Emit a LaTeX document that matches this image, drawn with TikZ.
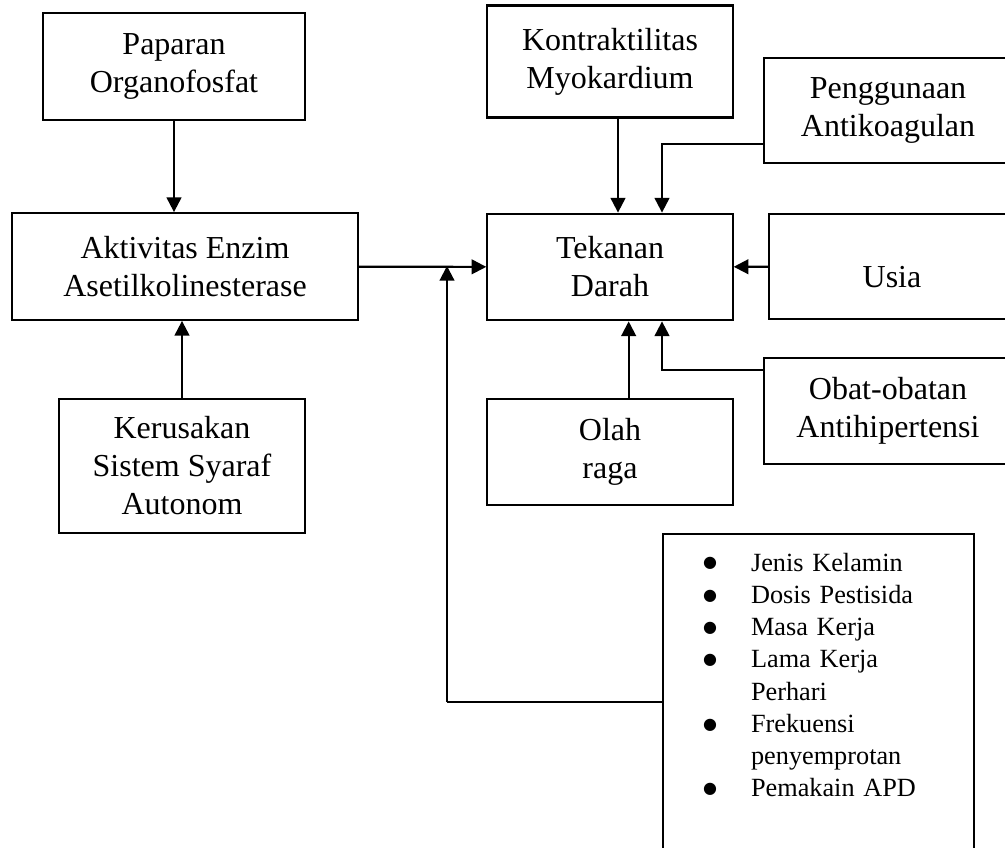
\documentclass[tikz,border=0pt]{standalone}
\usepackage{fontspec}
\setmainfont{Liberation Serif}
\newfontfamily\simbol{DejaVu Sans}
\usetikzlibrary{arrows.meta}
\newcommand{\butir}{\hspace*{30pt}\makebox[36pt][l]{\raisebox{2.5pt}{\simbol\fontsize{12}{12}\selectfont ●}}}
\newcommand{\lanjut}{\hspace*{66pt}}
\begin{document}
\begin{tikzpicture}[x=0.75pt, y=-0.75pt,
    kotak/.style={draw, line width=1.6pt, rectangle, inner sep=0pt, align=center,
        font=\fontsize{24}{28.5}\selectfont},
    daftar/.style={draw, line width=1.6pt, rectangle, inner sep=0pt, align=left,
        text width=233pt, font=\fontsize{19.7}{24.2}\selectfont},
    panah/.style={line width=1.6pt, -{Triangle[length=11pt,width=11pt]}}]
            \useasboundingbox (0,0) rectangle (1005,848);
            \node[kotak, minimum width=196pt, minimum height=80pt] (paparan) at (174, 66.5) {Paparan\\Organofosfat};
            \node[kotak, minimum width=259pt, minimum height=80pt] (enzim) at (185, 266.5) {Aktivitas Enzim\\Asetilkolinesterase};
            \node[kotak, minimum width=184pt, minimum height=100pt] (kerusakan) at (182, 466) {Kerusakan\\Sistem Syaraf\\Autonom};
            \node[kotak, minimum width=184pt, minimum height=84pt] (kontraktil) at (610, 61.5) {Kontraktilitas\\Myokardium};
            \node[kotak, minimum width=186pt, minimum height=79pt] (antikoag) at (888, 110.5) {Penggunaan\\Antikoagulan};
            \node[kotak, minimum width=184pt, minimum height=80pt] (tekanan) at (610, 267) {Tekanan\\Darah};
            \node[kotak, minimum width=184pt, minimum height=79pt, text height=32pt, text depth=0pt] (usia) at (892, 266.5) {Usia};
            \node[kotak, minimum width=186pt, minimum height=80pt] (obat) at (888, 411) {Obat-obatan\\Antihipertensi};
            \node[kotak, minimum width=184pt, minimum height=80pt] (olahraga) at (610, 452) {Olah\\raga};
            \node[daftar, anchor=north west] (faktor) at (662, 533) {\rule{0pt}{27.75pt}\butir Jenis Kelamin\\
                \butir Dosis Pestisida\\
                \butir Masa Kerja\\
                \butir Lama Kerja\\
                \lanjut Perhari\\
                \butir Frekuensi\\
                \lanjut penyemprotan\\
                \butir Pemakain APD\rule[-100pt]{0pt}{100pt}};
            \coordinate (simpang) at (447, 266);
            \coordinate (belok) at (447, 702);
            \draw[panah] (paparan) -- (paparan |- enzim.north);
            \draw[panah] (kerusakan) -- (kerusakan |- enzim.south);
            \draw[panah] (enzim) -- (tekanan);
            \draw[line width=1.6pt] (belok -| faktor.west) -- (belok);
            \draw[panah] (belok) -- (simpang);
            \draw[panah] ([xshift=6pt]kontraktil.south) -- ([xshift=6pt]tekanan.north);
            \draw[panah] ([yshift=-25pt]antikoag.west) -| ([xshift=39pt]tekanan.north);
            \draw[panah] (usia) -- (tekanan);
            \draw[panah] ([xshift=14pt]olahraga.north) -- ([xshift=14pt]tekanan.south);
            \draw[panah] ([yshift=31pt]obat.west) -| ([xshift=39pt]tekanan.south);
\end{tikzpicture}
\end{document}
